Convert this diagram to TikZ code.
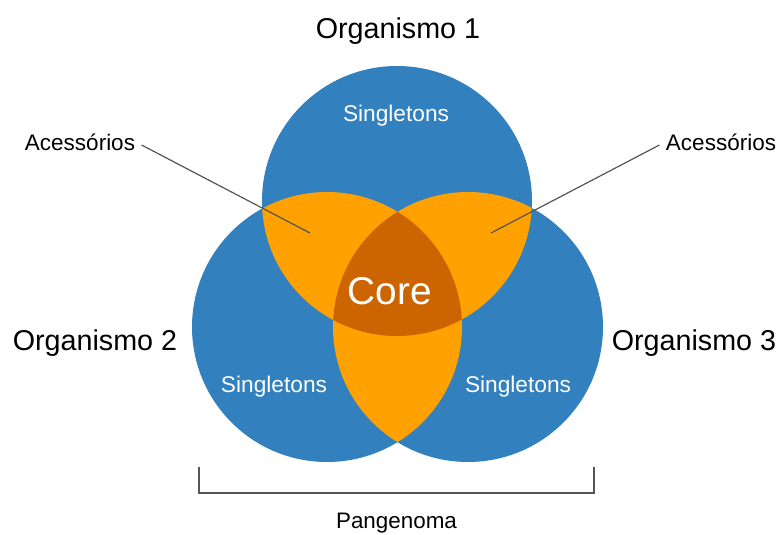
\documentclass[tikz,border=0pt]{standalone}
\usepackage{fontspec}
\setmainfont{Liberation Sans}
\usetikzlibrary{positioning}

\definecolor{genblue}{RGB}{50,129,190}
\definecolor{genorange}{RGB}{255,161,0}
\definecolor{gencore}{RGB}{204,101,0}
\definecolor{genline}{RGB}{85,85,85}

\begin{document}
\begin{tikzpicture}[x=1pt, y=-1pt]
\useasboundingbox (0,0) rectangle (779,535);
\coordinate (c1) at (397,201);
\coordinate (c2) at (327,327);
\coordinate (c3) at (468,327);
\def\genrad{135pt}
% the three genomes
\fill [genblue] (c1) circle (\genrad);
\fill [genblue] (c2) circle (\genrad);
\fill [genblue] (c3) circle (\genrad);
% shared by two
\begin{scope}
\clip (c1) circle (\genrad);
\fill [genorange] (c2) circle (\genrad);
\fill [genorange] (c3) circle (\genrad);
\end{scope}
\begin{scope}
\clip (c2) circle (\genrad);
\fill [genorange] (c3) circle (\genrad);
\end{scope}
% shared by all
\begin{scope}
\clip (c1) circle (\genrad);
\clip (c2) circle (\genrad);
\fill [gencore] (c3) circle (\genrad);
\end{scope}
\node [white, font=\fontsize{22.7}{26}\selectfont] (s1) at (396,116) {Singletons};
\node [white, font=\fontsize{22.7}{26}\selectfont] (s2) at (274,387) {Singletons};
\node [white, font=\fontsize{22.7}{26}\selectfont] (s3) at (518,387) {Singletons};
\node [white, font=\fontsize{38.8}{42}\selectfont] (core) at (390,291) {Core};
\node [font=\fontsize{28.7}{32}\selectfont] (org1) at (398,31) {Organismo 1};
\node [font=\fontsize{28.7}{32}\selectfont] (org2) at (95,343) {Organismo 2};
\node [font=\fontsize{28.7}{32}\selectfont] (org3) at (694,343) {Organismo 3};
\node [font=\fontsize{22.5}{26}\selectfont] (acl) at (80,142) {Acessórios};
\node [font=\fontsize{22.5}{26}\selectfont] (acr) at (721,142) {Acessórios};
\coordinate (acl-end) at (310,233);
\coordinate (acr-end) at (491,233);
\draw [genline, line width=1.2pt] (acl.east) ++(3,3) -- (acl-end);
\draw [genline, line width=1.2pt] (acr.west) ++(-3,3) -- (acr-end);
% bracket under the diagram
\coordinate (bl) at (199,467);
\coordinate (br) at (594,467);
\coordinate (bm) at (396.5,493);
\draw [genline, line width=1.6pt] (bl) -- (bl |- bm) -- (br |- bm) -- (br);
\node [font=\fontsize{22.4}{26}\selectfont, below=17pt of bm] (pan) {Pangenoma};
\end{tikzpicture}
\end{document}
